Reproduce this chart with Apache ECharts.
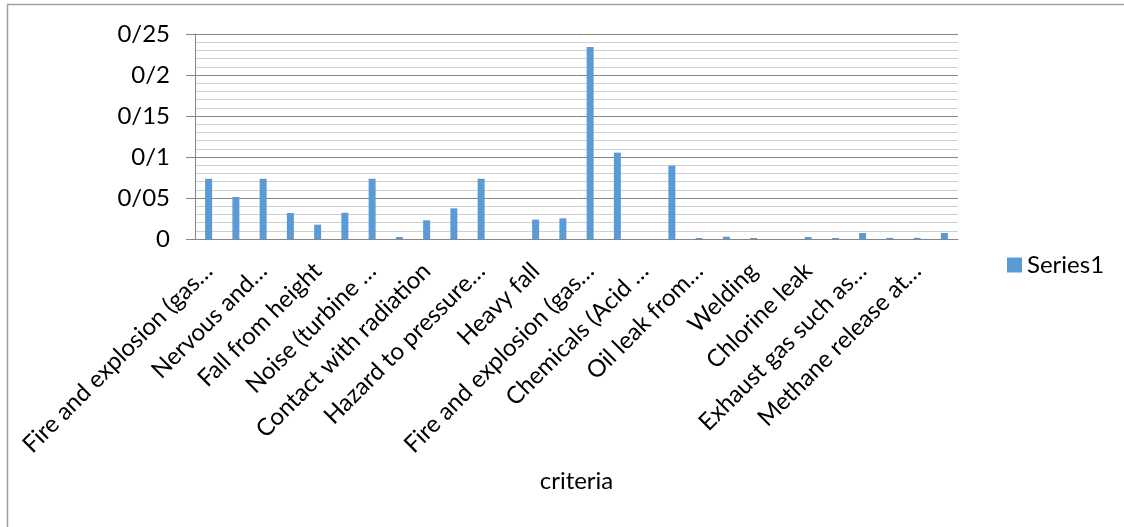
<!DOCTYPE html>
<html>
<head>
<meta charset="utf-8">
<script src="https://cdn.jsdelivr.net/npm/echarts@6/dist/echarts.min.js"></script>
<style>
  html, body { margin: 0; padding: 0; background: #fff; }
  #chart { width: 1124px; height: 527px; }
</style>
</head>
<body>
<div id="chart"></div>
<script>
// Category names (only every other one carries a visible label)
const categories = [
  'Fire and explosion (gas…', '',
  'Nervous and…', '',
  'Fall from height', '',
  'Noise (turbine …', '',
  'Contact with radiation', '',
  'Hazard to pressure…', '',
  'Heavy fall', '',
  'Fire and explosion (gas…', '',
  'Chemicals (Acid …', '',
  'Oil leak from…', '',
  'Welding', '',
  'Chlorine leak', '',
  'Exhaust gas such as…', '',
  'Methane release at…', ''
];

// Series1 weights per criterion
const series1 = [
  0.0735, 0.0512, 0.0735, 0.0317, 0.0175, 0.0320, 0.0735,
  0.0024, 0.0228, 0.0374, 0.0735, 0, 0.0236, 0.0252,
  0.2340, 0.1053, 0, 0.0894, 0.0012, 0.0028, 0.0012,
  0, 0.0024, 0.0012, 0.0073, 0.0014, 0.0014, 0.0073
];

// Value-axis tick labels written with "/" as the decimal separator
const yTickValues = [0, 0.05, 0.1, 0.15, 0.2, 0.25];
const yTickLabels = ['0', '0/05', '0/1', '0/15', '0/2', '0/25'];

const FONT = 'Lato, "Liberation Sans", sans-serif';

const chart = echarts.init(document.getElementById('chart'), null, { renderer: 'canvas' });

chart.setOption({
  animation: false,
  backgroundColor: '#ffffff',
  textStyle: { fontFamily: FONT },
  graphic: [{
    type: 'rect',
    shape: { x: 7.5, y: 4.5, width: 1200, height: 600 },
    style: { fill: 'none', stroke: '#a0a0a0', lineWidth: 1.5 },
    silent: true,
    z: -1
  }],
  grid: { left: 195, right: 166, top: 34, bottom: 288, containLabel: false },
  legend: {
    data: ['Series1'],
    left: 1007,
    top: 253,
    padding: 0,
    itemWidth: 15,
    itemHeight: 15,
    icon: 'rect',
    textStyle: { fontSize: 24, color: '#000', fontFamily: FONT }
  },
  xAxis: {
    type: 'category',
    data: categories,
    boundaryGap: true,
    name: 'criteria',
    nameLocation: 'middle',
    nameGap: 230,
    nameTextStyle: { fontSize: 24, color: '#000', fontFamily: FONT },
    axisLine: { show: true, lineStyle: { color: '#868686', width: 1 } },
    axisTick: { show: false },
    axisLabel: {
      interval: 0,
      rotate: 45,
      margin: 28,
      verticalAlign: 'middle',
      fontSize: 24,
      color: '#000',
      fontFamily: FONT
    },
    splitLine: { show: false }
  },
  yAxis: {
    type: 'value',
    min: 0,
    max: 0.25,
    interval: 0.05,
    axisLine: { show: true, lineStyle: { color: '#868686', width: 1 } },
    axisTick: { show: true, length: 9, inside: false, lineStyle: { color: '#868686' } },
    axisLabel: {
      margin: 25,
      fontSize: 24,
      color: '#000',
      fontFamily: FONT,
      formatter: function (v) {
        const i = yTickValues.findIndex(t => Math.abs(t - v) < 1e-9);
        return i >= 0 ? yTickLabels[i] : '';
      }
    },
    splitLine: { show: true, lineStyle: { color: '#868686', width: 1 } },
    minorTick: { show: false, splitNumber: 5 },
    minorSplitLine: { show: true, lineStyle: { color: '#cfcfcf', width: 1 } }
  },
  series: [{
    name: 'Series1',
    type: 'bar',
    data: series1,
    barWidth: 7,
    itemStyle: { color: '#5B9BD5' }
  }]
});
</script>
</body>
</html>
